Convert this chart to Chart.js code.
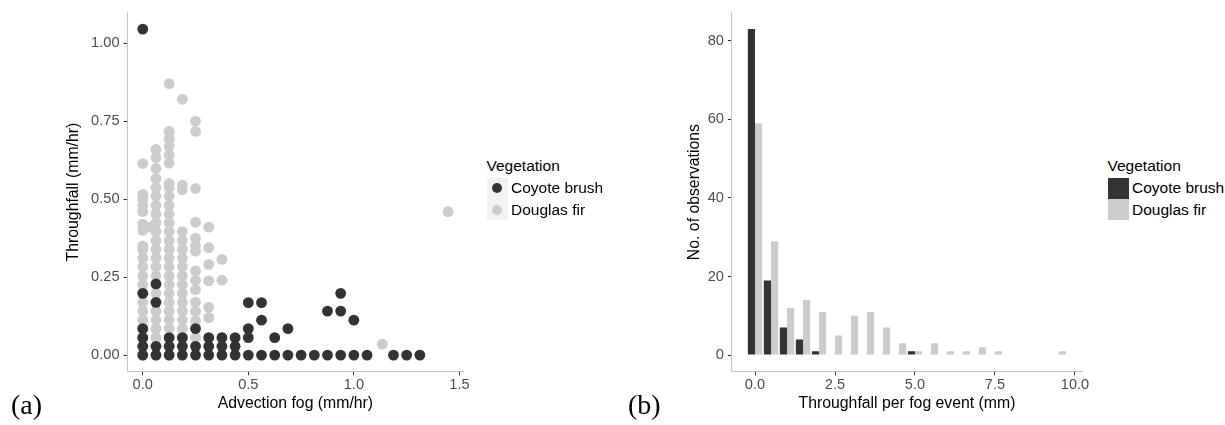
<!DOCTYPE html>
<html><head><meta charset="utf-8">
<script src="https://cdn.jsdelivr.net/npm/chart.js@4.4.1/dist/chart.umd.min.js"></script>
<style>
body{margin:0;background:#fff;font-family:"Liberation Sans",Arial,sans-serif;}
#wrap{position:relative;width:1225px;height:425px;overflow:hidden;background:#fff;}
canvas{position:absolute;top:0;}
#ca{left:0}
#cb{left:600px}
.lgt{position:absolute;white-space:nowrap;line-height:18px;font-size:15.5px;color:#000;}
.key{position:absolute;width:21px;height:21px}
.panel{position:absolute;font-family:"Liberation Serif",serif;font-size:28px;line-height:28px;color:#000}
</style></head><body>
<div id="wrap">
<canvas id="ca" width="480" height="425"></canvas>
<canvas id="cb" width="500" height="425"></canvas>
<div id="legA"></div><div id="legB"></div>
<div class="panel" style="left:11px;top:391px">(a)</div>
<div class="panel" style="left:628px;top:391px">(b)</div>
</div>
<script>
// ---- shared ----
const seriesNames = ['Coyote brush', 'Douglas fir'];
const seriesColors = ['#333333', '#cccccc'];
const legendTitle = 'Vegetation';

// ---- panel (a): throughfall vs advection fog ----
const coyoteFog = [
  0,0,0,0,0,0,
  0.0625,0.0625,0.0625,0.0625,
  0.125,0.125,0.125,
  0.1875,0.1875,0.1875,
  0.25,0.25,0.25,
  0.3125,0.3125,0.3125,
  0.375,0.375,0.375,
  0.4375,0.4375,0.4375,
  0.5,0.5,0.5,0.5,
  0.5625,0.5625,0.5625,
  0.625,0.625,
  0.6875,0.6875,
  0.75,
  0.8125,
  0.875,0.875,
  0.9375,0.9375,0.9375,
  1.0,1.0,
  1.0625,
  1.1875,1.25,1.3125
];
const coyoteThroughfall = [
  1.045,0.198,0.085,0.056,0.028,0,
  0.228,0.169,0.028,0,
  0.056,0.028,0,
  0.056,0.028,0,
  0.085,0.028,0,
  0.056,0.028,0,
  0.056,0.028,0,
  0.056,0.028,0,
  0.168,0.085,0.056,0,
  0.168,0.112,0,
  0.056,0,
  0.085,0,
  0,
  0,
  0.141,0,
  0.198,0.141,0,
  0.112,0,
  0,
  0,0,0
];
const firFog = [
  // x = 0 (21)
  0,0,0,0,0,0,0,0,0,0,0,0,0,0,0,0,0,0,0,0,0,
  // x = 0.035 (1)
  0.035,
  // x = 0.0625 (24)
  0.0625,0.0625,0.0625,0.0625,0.0625,0.0625,0.0625,0.0625,0.0625,0.0625,0.0625,0.0625,
  0.0625,0.0625,0.0625,0.0625,0.0625,0.0625,0.0625,0.0625,0.0625,0.0625,0.0625,0.0625,
  // x = 0.125 (27)
  0.125,0.125,0.125,0.125,0.125,0.125,0.125,0.125,0.125,0.125,0.125,0.125,0.125,0.125,
  0.125,0.125,0.125,0.125,0.125,0.125,0.125,0.125,0.125,0.125,0.125,0.125,0.125,
  // x = 0.1875 (16)
  0.1875,0.1875,0.1875,0.1875,0.1875,0.1875,0.1875,0.1875,
  0.1875,0.1875,0.1875,0.1875,0.1875,0.1875,0.1875,0.1875,
  // x = 0.25 (14)
  0.25,0.25,0.25,0.25,0.25,0.25,0.25,0.25,0.25,0.25,0.25,0.25,0.25,0.25,
  // x = 0.3125 (6)
  0.3125,0.3125,0.3125,0.3125,0.3125,0.3125,
  // x = 0.375 (2)
  0.375,0.375,
  1.135,
  1.446
];
const firThroughfall = [
  0,0.028,0.056,0.085,0.113,0.141,0.169,0.198,0.226,0.254,0.283,0.311,0.339,0.35,0.40,0.42,0.46,0.48,0.50,0.515,0.614,
  0.41,
  0,0.028,0.056,0.085,0.113,0.141,0.169,0.198,0.226,0.254,0.283,0.311,
  0.339,0.367,0.396,0.424,0.452,0.480,0.509,0.537,0.566,0.598,0.633,0.659,
  0,0.028,0.056,0.085,0.113,0.141,0.169,0.198,0.226,0.254,0.283,0.311,0.339,0.367,
  0.396,0.424,0.452,0.480,0.509,0.537,0.55,0.615,0.641,0.669,0.693,0.717,0.87,
  0.056,0.085,0.113,0.141,0.169,0.198,0.226,0.254,
  0.283,0.311,0.339,0.367,0.396,0.53,0.545,0.82,
  0.056,0.11,0.14,0.17,0.21,0.24,0.27,0.333,0.35,0.375,0.426,0.534,0.717,0.75,
  0.12,0.153,0.238,0.291,0.344,0.41,
  0.24,0.307,
  0.035,
  0.46
];
const fogTicks = [0, 0.5, 1.0, 1.5];
const fogTickLabels = ['0.0', '0.5', '1.0', '1.5'];
const thrTicks = [0, 0.25, 0.5, 0.75, 1.0];
const thrTickLabels = ['0.00', '0.25', '0.50', '0.75', '1.00'];

// ---- panel (b): histogram of throughfall per fog event ----
const binCenters = [0,0.5,1.0,1.5,2.0,2.5,3.0,3.5,4.0,4.5,5.0,5.5,6.0,6.5,7.0,7.5,8.0,8.5,9.0,9.5];
const coyoteCounts = [83,19,7,4,1,0,0,0,0,0,1,0,0,0,0,0,0,0,0,0];
const firCounts    = [59,29,12,14,11,5,10,11,7,3,1,3,1,1,2,1,0,0,0,1];
const eventTicks = [0, 2.5, 5.0, 7.5, 10.0];
const eventTickLabels = ['0.0', '2.5', '5.0', '7.5', '10.0'];
const countTicks = [0, 20, 40, 60, 80];
const countTickLabels = ['0', '20', '40', '60', '80'];

// ---- helpers ----
const FONT = '"Liberation Sans", Arial, sans-serif';
Chart.defaults.font.family = FONT;
function expand(lo, hi) { const r = hi - lo; return [lo - 0.05 * r, hi + 0.05 * r]; }
function axis(opts) {
  return {
    type: 'linear', min: opts.min, max: opts.max, offset: false,
    afterBuildTicks: s => { s.ticks = opts.ticks.map(v => ({ value: v })); },
    afterFit: s => { if (opts.width) s.width = opts.width; if (opts.height) s.height = opts.height; },
    ticks: { callback: (v, i) => opts.labels[i], color: '#4d4d4d', font: { family: FONT, size: 14.6 },
             padding: opts.tickPad, maxRotation: 0, minRotation: 0, autoSkip: false },
    grid: { display: true, drawOnChartArea: false, drawTicks: true, tickLength: 4, color: '#333333', lineWidth: 1, offset: false },
    border: { display: true, color: '#c4c4c4', width: 1 },
    title: { display: true, text: opts.title, color: '#000', font: { family: FONT, size: 15.8 }, padding: opts.titlePad }
  };
}

// ---- chart (a) ----
const ax = expand(Math.min(...coyoteFog, ...firFog), Math.max(...coyoteFog, ...firFog));
const ay = expand(Math.min(...coyoteThroughfall, ...firThroughfall), Math.max(...coyoteThroughfall, ...firThroughfall));
new Chart(document.getElementById('ca'), {
  type: 'scatter',
  data: { datasets: [
    { label: seriesNames[0], data: coyoteFog.map((x, i) => ({ x, y: coyoteThroughfall[i] })),
      backgroundColor: seriesColors[0], borderColor: 'rgba(0,0,0,0)', pointRadius: 5.4, pointBorderWidth: 0, pointHoverRadius: 5.4 },
    { label: seriesNames[1], data: firFog.map((x, i) => ({ x, y: firThroughfall[i] })),
      backgroundColor: seriesColors[1], borderColor: 'rgba(0,0,0,0)', pointRadius: 5.4, pointBorderWidth: 0, pointHoverRadius: 5.4 }
  ]},
  options: {
    responsive: false, animation: false, devicePixelRatio: 1, events: [],
    layout: { padding: { top: 9.3, right: 16.7, left: 0, bottom: 0 } },
    plugins: { legend: { display: false }, tooltip: { enabled: false } },
    scales: {
      x: axis({ min: ax[0], max: ax[1], ticks: fogTicks, labels: fogTickLabels, height: 53.6, tickPad: 1,
                title: 'Advection fog (mm/hr)', titlePad: { top: 0, bottom: 12 } }),
      y: axis({ min: ay[0], max: ay[1], ticks: thrTicks, labels: thrTickLabels, width: 127.5, tickPad: 4,
                title: 'Throughfall (mm/hr)', titlePad: { top: 64, bottom: 0 } })
    }
  }
});

// ---- chart (b) ----
const binW = binCenters[1] - binCenters[0];
const bx = expand(binCenters[0] - 0.45 * binW, binCenters[binCenters.length - 1] + 0.45 * binW);
const by = expand(0, Math.max(...coyoteCounts, ...firCounts));
new Chart(document.getElementById('cb'), {
  type: 'bar',
  data: { datasets: [
    { label: seriesNames[0], data: binCenters.map((x, i) => ({ x, y: coyoteCounts[i] })),
      backgroundColor: seriesColors[0], borderWidth: 0, categoryPercentage: 0.9, barPercentage: 1.0 },
    { label: seriesNames[1], data: binCenters.map((x, i) => ({ x, y: firCounts[i] })),
      backgroundColor: seriesColors[1], borderWidth: 0, categoryPercentage: 0.9, barPercentage: 1.0 }
  ]},
  options: {
    responsive: false, animation: false, devicePixelRatio: 1, events: [],
    layout: { padding: { top: 10, right: 17.9, left: 0, bottom: 0 } },
    plugins: { legend: { display: false }, tooltip: { enabled: false } },
    scales: {
      x: axis({ min: bx[0], max: bx[1], ticks: eventTicks, labels: eventTickLabels, height: 53.6, tickPad: 1,
                title: 'Throughfall per fog event (mm)', titlePad: { top: 0, bottom: 12 } }),
      y: axis({ min: by[0], max: by[1], ticks: countTicks, labels: countTickLabels, width: 131.9, tickPad: 4,
                title: 'No. of observations', titlePad: { top: 85.5, bottom: 0 } })
    }
  }
});

// ---- legends ----
function buildLegend(id, left, kind) {
  let html = `<div class="lgt" style="left:${left}px;top:157px">${legendTitle}</div>`;
  seriesNames.forEach((n, i) => {
    const top = 177.5 + i * 21.5;
    if (kind === 'point') {
      html += `<div class="key" style="left:${left}px;top:${top}px;background:#f2f2f2">` +
              `<div style="position:absolute;left:5.5px;top:5.5px;width:10px;height:10px;border-radius:50%;background:${seriesColors[i]}"></div></div>`;
    } else {
      html += `<div class="key" style="left:${left}px;top:${top}px;background:${seriesColors[i]}"></div>`;
    }
    html += `<div class="lgt" style="left:${left + 24.5}px;top:${top + 1.5}px">${n}</div>`;
  });
  document.getElementById(id).innerHTML = html;
}
buildLegend('legA', 486.5, 'point');
buildLegend('legB', 1107.5, 'box');
</script>
</body></html>
